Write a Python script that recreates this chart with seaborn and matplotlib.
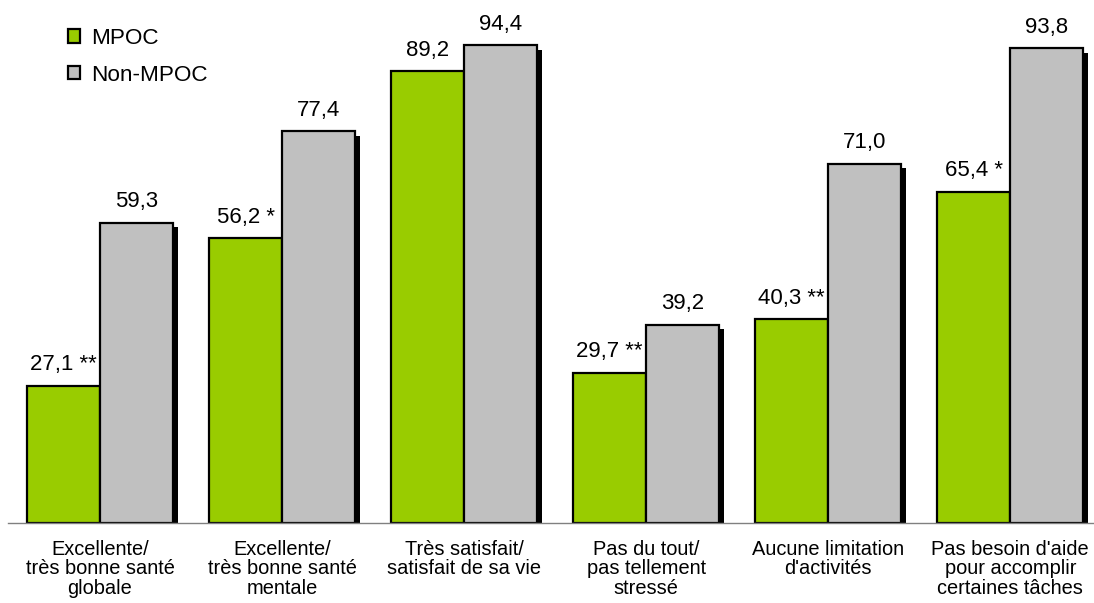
import pandas as pd
import numpy as np
import seaborn as sns
from matplotlib import pyplot as plt
from matplotlib import patheffects as pe
from matplotlib.patches import Patch

# categories and values
categories = ["Excellente/\ntrès bonne santé\nglobale",
              "Excellente/\ntrès bonne santé\nmentale",
              "Très satisfait/\nsatisfait de sa vie",
              "Pas du tout/\npas tellement\nstressé",
              "Aucune limitation\nd'activités",
              "Pas besoin d'aide\npour accomplir\ncertaines tâches"]
mpoc = [27.1, 56.2, 89.2, 29.7, 40.3, 65.4]
non_mpoc = [59.3, 77.4, 94.4, 39.2, 71.0, 93.8]
mpoc_flags = [" **", " *", "", " **", " **", " *"]
groups = ["MPOC", "Non-MPOC"]
colors = ["#99CC00", "#C0C0C0"]

df = pd.DataFrame({
    "cat": categories * 2,
    "val": mpoc + non_mpoc,
    "grp": [groups[0]] * len(mpoc) + [groups[1]] * len(non_mpoc),
})

sns.set_style("white")
plt.rcParams['font.family'] = ['Liberation Sans', 'DejaVu Sans']
plt.rcParams['text.color'] = 'black'
plt.rcParams['xtick.color'] = 'black'

fig = plt.figure(figsize=(10.94, 6.03), dpi=100)
ax = fig.add_axes([8 / 1094, 80 / 603, 1086 / 1094, 523 / 603])

sns.barplot(data=df, x="cat", y="val", hue="grp", palette=colors, saturation=1,
            edgecolor="black", linewidth=1.6, width=0.8, gap=0,
            legend=False, ax=ax)

# drop shadow on bars
shadow = [pe.SimplePatchShadow(offset=(3.5, -3.2), shadow_rgbFace="black", alpha=1.0), pe.Normal()]
for cont in ax.containers:
    for p in cont:
        p.set_path_effects(shadow)

# value labels
fmt = lambda v: f"{v:.1f}".replace(".", ",")
ax.bar_label(ax.containers[0], labels=[fmt(v) + f for v, f in zip(mpoc, mpoc_flags)],
             padding=7.5, fontsize=16, color="black")
ax.bar_label(ax.containers[1], labels=[fmt(v) for v in non_mpoc],
             padding=7.5, fontsize=16, color="black")

ax.set_xlim(-0.505, 5.46)
ax.set_ylim(0, 103.3)
ax.set_xlabel("")
ax.set_ylabel("")
ax.set_yticks([])
ax.tick_params(axis="x", length=0, pad=12, labelsize=14.4, labelcolor="black")
for lbl in ax.get_xticklabels():
    lbl.set_linespacing(1.05)
for s in ["left", "right", "top"]:
    ax.spines[s].set_visible(False)
ax.spines["bottom"].set_color("#808080")
ax.spines["bottom"].set_linewidth(1.0)

handles = [Patch(facecolor=c, edgecolor="black", linewidth=1.6) for c in colors]
fig.legend(handles, groups, loc="upper left", bbox_to_anchor=(68 / 1094, 1 - 28 / 603),
           frameon=False, fontsize=16.2, handlelength=0.52, handleheight=0.52,
           handletextpad=0.5, labelspacing=0.7, borderpad=0, borderaxespad=0)

fig.savefig("out.png", dpi=100)
